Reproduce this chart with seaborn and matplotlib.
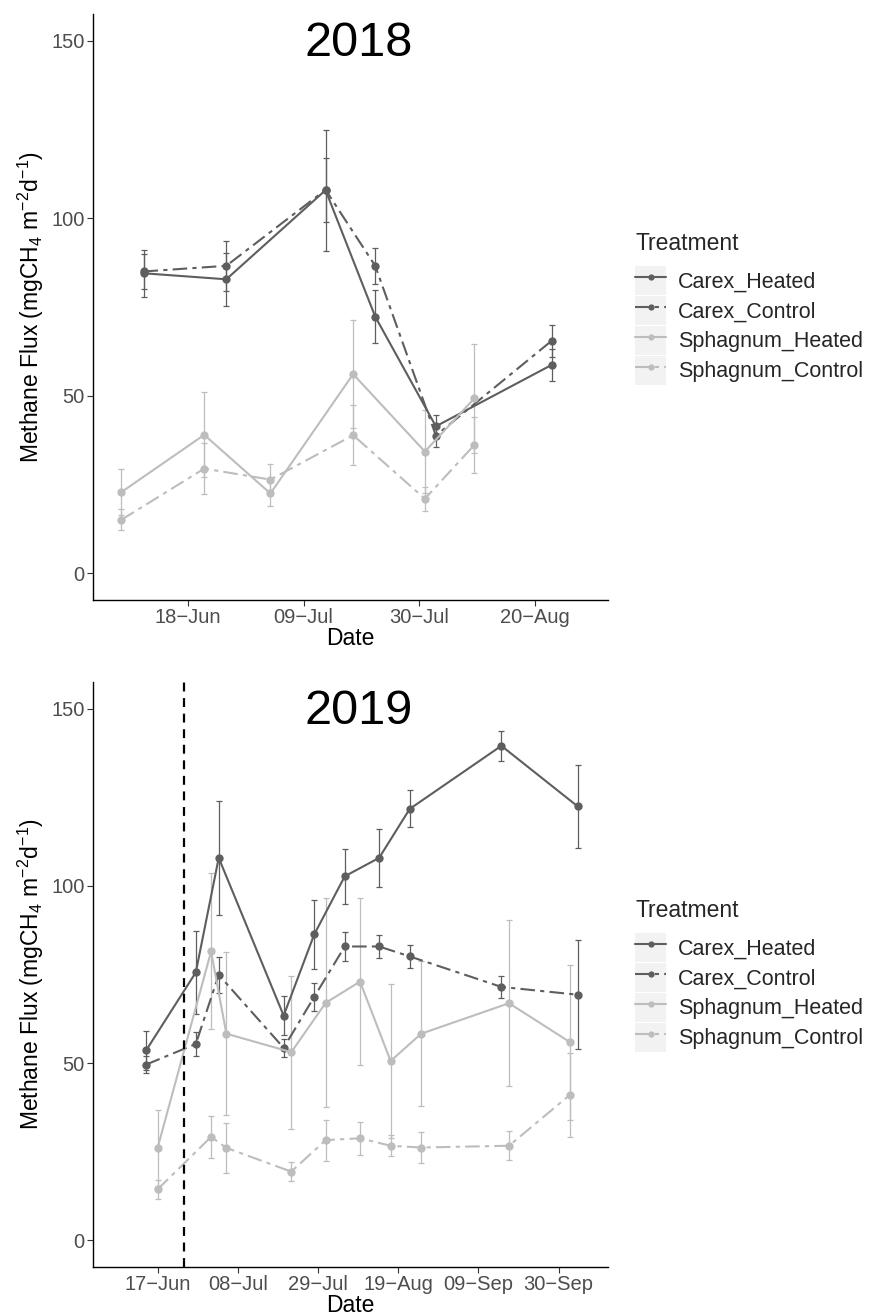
import pandas as pd
import seaborn as sns
import matplotlib.pyplot as plt
from matplotlib.lines import Line2D
from matplotlib.patches import Rectangle
from matplotlib.legend_handler import HandlerTuple

# 2018 data
carex_dates_18 = ['2018-06-10', '2018-06-25', '2018-07-13', '2018-07-22', '2018-08-02', '2018-08-23']
carex_heated_18 = [84.5, 82.8, 107.9, 72.3, 41.4, 58.7]
carex_heated_se_18 = [6.6, 7.5, 17.0, 7.5, 3.3, 4.4]
carex_control_18 = [85.0, 86.6, 108.0, 86.6, 38.8, 65.5]
carex_control_se_18 = [4.8, 7.0, 9.0, 5.0, 3.2, 4.5]

sphag_dates_18 = ['2018-06-06', '2018-06-21', '2018-07-03', '2018-07-18', '2018-07-31', '2018-08-09']
sphag_heated_18 = [22.9, 39.0, 22.5, 56.1, 34.3, 49.3]
sphag_heated_se_18 = [6.4, 12.0, 3.5, 15.3, 11.8, 15.3]
sphag_control_18 = [15.1, 29.5, 26.4, 38.9, 21.0, 36.2]
sphag_control_se_18 = [3.0, 7.2, 4.4, 8.4, 3.3, 7.9]

# 2019 data
carex_dates_19 = ['2019-06-14', '2019-06-27', '2019-07-03', '2019-07-20', '2019-07-28',
                  '2019-08-05', '2019-08-14', '2019-08-22', '2019-09-15', '2019-10-05']
carex_heated_19 = [53.6, 75.6, 107.9, 63.4, 86.3, 102.7, 107.9, 121.7, 139.5, 122.4]
carex_heated_se_19 = [5.6, 11.8, 16.0, 5.5, 9.7, 7.8, 8.2, 5.2, 4.3, 11.8]
carex_control_19 = [49.6, 55.4, 74.9, 54.3, 68.7, 82.9, 82.9, 80.1, 71.5, 69.3]
carex_control_se_19 = [2.3, 3.4, 5.0, 2.5, 3.9, 4.0, 3.3, 3.2, 3.0, 15.4]

sphag_dates_19 = ['2019-06-17', '2019-07-01', '2019-07-05', '2019-07-22', '2019-07-31',
                  '2019-08-09', '2019-08-17', '2019-08-25', '2019-09-17', '2019-10-03']
sphag_heated_19 = [26.1, 81.5, 58.3, 53.1, 67.0, 73.0, 50.6, 58.3, 66.9, 55.9]
sphag_heated_se_19 = [10.8, 22.0, 23.0, 21.6, 29.5, 23.5, 21.6, 20.4, 23.4, 21.8]
sphag_control_19 = [14.4, 29.2, 26.1, 19.4, 28.3, 28.8, 26.7, 26.2, 26.7, 41.1]
sphag_control_se_19 = [2.7, 5.9, 7.0, 2.7, 5.8, 4.7, 3.0, 4.5, 4.1, 11.8]

treatments = ['Carex_Heated', 'Carex_Control', 'Sphagnum_Heated', 'Sphagnum_Control']
ticks_18 = ['2018-06-18', '2018-07-09', '2018-07-30', '2018-08-20']
ticks_19 = ['2019-06-17', '2019-07-08', '2019-07-29', '2019-08-19', '2019-09-09', '2019-09-30']
warming_start_19 = '2019-06-24'


def make_frame(cd, ch, chs, cc, ccs, sd, sh, shs, sc, scs):
    parts = []
    for name, d, v, s in [('Carex_Heated', cd, ch, chs), ('Carex_Control', cd, cc, ccs),
                          ('Sphagnum_Heated', sd, sh, shs), ('Sphagnum_Control', sd, sc, scs)]:
        parts.append(pd.DataFrame({'Date': pd.to_datetime(d), 'Flux': v, 'SE': s, 'Treatment': name}))
    return pd.concat(parts, ignore_index=True)


df18 = make_frame(carex_dates_18, carex_heated_18, carex_heated_se_18, carex_control_18, carex_control_se_18,
                  sphag_dates_18, sphag_heated_18, sphag_heated_se_18, sphag_control_18, sphag_control_se_18)
df19 = make_frame(carex_dates_19, carex_heated_19, carex_heated_se_19, carex_control_19, carex_control_se_19,
                  sphag_dates_19, sphag_heated_19, sphag_heated_se_19, sphag_control_19, sphag_control_se_19)

sns.set_theme(style='white')
plt.rcParams['font.family'] = ['Liberation Sans', 'DejaVu Sans']
plt.rcParams['mathtext.fontset'] = 'custom'
plt.rcParams['mathtext.rm'] = 'Liberation Sans'
plt.rcParams['mathtext.it'] = 'Liberation Sans'

palette = {'Carex_Heated': '#5e5e5e', 'Carex_Control': '#5e5e5e',
           'Sphagnum_Heated': '#bdbdbd', 'Sphagnum_Control': '#bdbdbd'}
dash_pat = (7, 2.5, 2, 2.5)
dashes = {'Carex_Heated': '', 'Carex_Control': dash_pat,
          'Sphagnum_Heated': '', 'Sphagnum_Control': dash_pat}
markers = {t: 'o' for t in treatments}

fig = plt.figure(figsize=(8.71, 13.15), dpi=100)
ax1 = fig.add_axes([93 / 871, 1 - 600 / 1315, 515 / 871, 586 / 1315])
ax2 = fig.add_axes([93 / 871, 1 - 1267 / 1315, 515 / 871, 585 / 1315])


def draw(ax, df, title, ticks, xlim):
    for t in treatments:
        sub = df[df['Treatment'] == t]
        ax.errorbar(sub['Date'], sub['Flux'], yerr=sub['SE'], fmt='none', ecolor=palette[t],
                    elinewidth=0.9, capsize=2.5, capthick=0.9, zorder=1)
    sns.lineplot(data=df, x='Date', y='Flux', hue='Treatment', style='Treatment',
                 hue_order=treatments, style_order=treatments, palette=palette,
                 dashes=dashes, markers=markers, markersize=6, markeredgewidth=0,
                 linewidth=1.5, errorbar=None, legend=False, ax=ax, zorder=2)
    ax.set_ylim(-7.5, 157.5)
    ax.set_yticks([0, 50, 100, 150])
    ax.set_xlim(pd.Timestamp(xlim[0]), pd.Timestamp(xlim[1]))
    tk = pd.to_datetime(ticks)
    ax.set_xticks(tk)
    ax.set_xticklabels([d.strftime('%d') + '\u2212' + d.strftime('%b') for d in tk])
    ax.tick_params(axis='both', labelsize=14.5, labelcolor='#4d4d4d', color='#333333',
                   length=4, width=0.8, direction='out', bottom=True, left=True, pad=2)
    for s in ['top', 'right']:
        ax.spines[s].set_visible(False)
    for s in ['left', 'bottom']:
        ax.spines[s].set_color('black')
        ax.spines[s].set_linewidth(1.0)
    ax.set_xlabel('Date', fontsize=16.5, color='black', labelpad=0)
    ax.set_ylabel('Methane Flux (mgCH$_4$ m$^{-2}$d$^{-1}$)', fontsize=16.5, color='black', labelpad=4)
    ax.text(0.515, 0.95, title, transform=ax.transAxes, ha='center', va='center', fontsize=35, color='black')


draw(ax1, df18, '2018', ticks_18, ('2018-05-31 20:00', '2018-09-02 05:00'))
draw(ax2, df19, '2019', ticks_19, ('2019-05-31 02:00', '2019-10-12 22:00'))
ax2.axvline(pd.Timestamp(warming_start_19), color='black', linestyle=(0, (4, 3)), linewidth=1.6, zorder=3)


# legends with grey key boxes
def legend_handles():
    hs = []
    for t in treatments:
        box = Rectangle((0, 0), 1, 1, facecolor='#f2f2f2', edgecolor='none')
        ln = Line2D([], [], color=palette[t], linewidth=1.5, marker='o', markersize=4.5,
                    markeredgewidth=0)
        if dashes[t]:
            ln.set_dashes(dashes[t])
        hs.append((box, ln))
    return hs


for ytop in [231.7, 898.7]:
    leg = fig.legend(legend_handles(), treatments, loc='upper left',
                     bbox_to_anchor=(635 / 871, 1 - ytop / 1315), frameon=False, fontsize=15.5,
                     title='Treatment', title_fontsize=16.5, handlelength=1.44, handleheight=1.7,
                     labelspacing=0.046, handletextpad=0.56, borderpad=0, borderaxespad=0,
                     handler_map={tuple: HandlerTuple(ndivide=1, pad=0)})
    leg._legend_box.align = 'left'
    leg._legend_box.sep = 8

fig.savefig('out.png', dpi=100)
